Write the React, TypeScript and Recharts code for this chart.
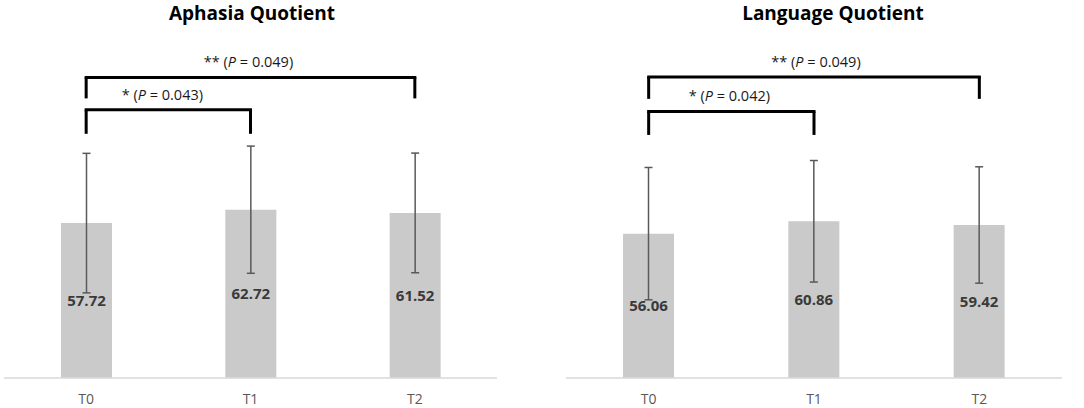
import React from "react"
import { BarChart, Bar, XAxis, YAxis, ErrorBar, LabelList, ReferenceLine } from "recharts"

const categories = ["T0", "T1", "T2"]

// Aphasia Quotient
const aqMeans = [57.72, 62.72, 61.52]
const aqSd = [26.0, 23.7, 22.3]

// Language Quotient
const lqMeans = [56.06, 60.86, 59.42]
const lqSd = [25.7, 23.6, 22.6]

type Bracket = { from: string; to: string; y: number; leg: number; stars: string; p: string; dx: number }

const aqBrackets: Bracket[] = [
  { from: "T0", to: "T1", y: 100, leg: 91, stars: "*", p: "0.043", dx: -6 },
  { from: "T0", to: "T2", y: 112, leg: 104.2, stars: "**", p: "0.049", dx: -2 },
]

const lqBrackets: Bracket[] = [
  { from: "T0", to: "T1", y: 103.5, leg: 94.4, stars: "*", p: "0.042", dx: -2 },
  { from: "T0", to: "T2", y: 116.9, leg: 108.4, stars: "**", p: "0.049", dx: 2 },
]

const FONT = "'Open Sans', sans-serif"
const BAR_FILL = "#cacaca"
const ERR_COLOR = "#595959"

function buildRows(means: number[], sds: number[]) {
  return categories.map((name, i) => ({ name, mean: means[i], sd: sds[i] }))
}

function BracketLabel(props: any) {
  const { viewBox, stars, p, dx } = props
  if (!viewBox) return null
  const cx = viewBox.x + viewBox.width / 2 + dx
  return (
    <text x={cx} y={viewBox.y - 10} textAnchor="middle" fontSize={14.5} fontFamily={FONT} fill="#1a1a1a">
      {stars} (<tspan fontStyle="italic">P</tspan> = {p})
    </text>
  )
}

function renderBracket(b: Bracket, key: string) {
  const line = { stroke: "#000", strokeWidth: 3, ifOverflow: "visible" as const }
  return [
    <ReferenceLine
      key={key + "h"}
      segment={[{ x: b.from, y: b.y }, { x: b.to, y: b.y }]}
      {...line}
      strokeLinecap="square"
      label={<BracketLabel stars={b.stars} p={b.p} dx={b.dx} />}
    />,
    <ReferenceLine key={key + "l"} segment={[{ x: b.from, y: b.y }, { x: b.from, y: b.leg }]} {...line} />,
    <ReferenceLine key={key + "r"} segment={[{ x: b.to, y: b.y }, { x: b.to, y: b.leg }]} {...line} />,
  ]
}

interface QuotientChartProps {
  means: number[]
  sds: number[]
  brackets: Bracket[]
  margin: { top: number; right: number; left: number; bottom: number }
}

function QuotientChart({ means, sds, brackets, margin }: QuotientChartProps) {
  const data = buildRows(means, sds)
  return (
    <BarChart width={540} height={408} data={data} margin={margin}>
      <XAxis
        dataKey="name"
        height={30}
        tickLine={false}
        tickMargin={10}
        axisLine={{ stroke: "#d9d9d9", strokeWidth: 1.5 }}
        tick={{ fontSize: 14, fill: "#595959", fontFamily: FONT }}
      />
      <YAxis hide domain={[0, 120]} />
      <Bar dataKey="mean" fill={BAR_FILL} barSize={51} isAnimationActive={false}>
        <ErrorBar dataKey="sd" width={4} stroke={ERR_COLOR} strokeWidth={1.5} direction="y" />
        <LabelList
          dataKey="mean"
          position="center"
          fill="#3a3a3a"
          fontSize={15}
          fontWeight="bold"
          fontFamily={FONT}
        />
      </Bar>
      {brackets.flatMap((b, i) => renderBracket(b, "b" + i))}
    </BarChart>
  )
}

export default function App() {
  return (
    <div style={{ position: "absolute", left: 0, top: 0, width: 1084, height: 408, background: "#fff" }}>
      <div style={{ position: "absolute", left: 0, top: 0 }}>
        <QuotientChart means={aqMeans} sds={aqSd} brackets={aqBrackets} margin={{ top: 56, right: 43, left: 4, bottom: 0 }} />
      </div>
      <div style={{ position: "absolute", left: 544, top: 0 }}>
        <QuotientChart means={lqMeans} sds={lqSd} brackets={lqBrackets} margin={{ top: 69, right: 22, left: 22, bottom: 0 }} />
      </div>
      <svg width={1084} height={40} style={{ position: "absolute", left: 0, top: 0, pointerEvents: "none" }}>
        <text x={252} y={20} textAnchor="middle" fontSize={19} fontWeight="bold" fontFamily={FONT} fill="#000">
          Aphasia Quotient
        </text>
        <text x={833} y={20} textAnchor="middle" fontSize={19} fontWeight="bold" fontFamily={FONT} fill="#000">
          Language Quotient
        </text>
      </svg>
    </div>
  )
}
